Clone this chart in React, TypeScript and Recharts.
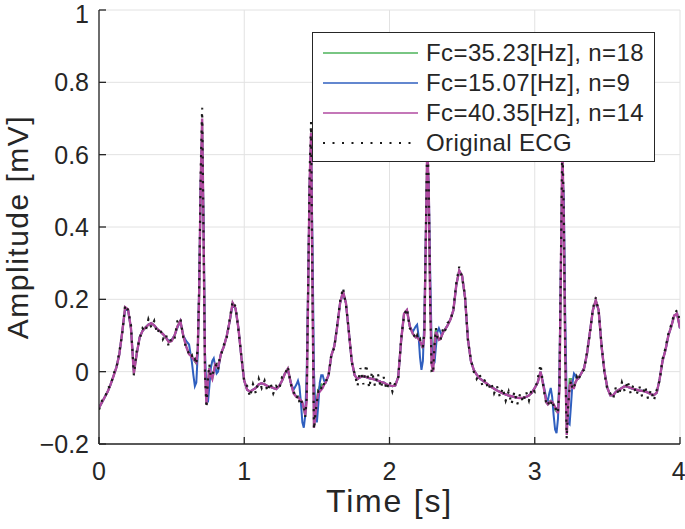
import React from 'react';
import { LineChart, Line, XAxis, YAxis, CartesianGrid } from 'recharts';

// sample times [s]
const time = [
  0, 0.02, 0.04, 0.06, 0.08, 0.1, 0.12, 0.14, 0.16, 0.18, 0.2, 0.22, 0.24, 0.26, 0.28, 0.3, 0.32, 0.34, 0.36, 0.38, 0.4, 0.42, 0.44, 0.46, 0.48, 0.5, 0.52, 0.54, 0.56, 0.58, 0.6, 0.62,
  0.63, 0.64, 0.65, 0.66, 0.67, 0.68, 0.69, 0.7, 0.71, 0.72, 0.73, 0.74, 0.75, 0.76, 0.77, 0.78, 0.79, 0.8, 0.81, 0.82, 0.83,
  0.84, 0.86, 0.88, 0.9, 0.92, 0.94, 0.96, 0.98, 1.0, 1.02, 1.04, 1.06, 1.08, 1.1, 1.12, 1.14, 1.16, 1.18, 1.2, 1.22, 1.24, 1.26, 1.28, 1.3, 1.32, 1.34, 1.36,
  1.37, 1.38, 1.39, 1.4, 1.41, 1.42, 1.43, 1.44, 1.45, 1.46, 1.47, 1.48, 1.49, 1.5, 1.51, 1.52, 1.53, 1.54, 1.55, 1.56, 1.57,
  1.58, 1.6, 1.62, 1.64, 1.66, 1.68, 1.7, 1.72, 1.74, 1.76, 1.78, 1.8, 1.82, 1.84, 1.86, 1.88, 1.9, 1.92, 1.94, 1.96, 1.98, 2.0, 2.02, 2.04, 2.06, 2.08, 2.1, 2.12, 2.14, 2.16, 2.18,
  2.19, 2.2, 2.21, 2.22, 2.23, 2.24, 2.25, 2.26, 2.27, 2.28, 2.29, 2.3, 2.31, 2.32, 2.33, 2.34, 2.35, 2.36, 2.37,
  2.38, 2.4, 2.42, 2.44, 2.46, 2.48, 2.5, 2.52, 2.54, 2.56, 2.58, 2.6, 2.62, 2.64, 2.66, 2.68, 2.7, 2.72, 2.74, 2.76, 2.78, 2.8, 2.82, 2.84, 2.86, 2.88, 2.9, 2.92, 2.94, 2.96, 2.98, 3.0, 3.02, 3.04, 3.06, 3.08,
  3.09, 3.1, 3.11, 3.12, 3.13, 3.14, 3.15, 3.16, 3.17, 3.18, 3.19, 3.2, 3.21, 3.22, 3.23, 3.24, 3.25, 3.26, 3.27, 3.28, 3.29,
  3.3, 3.32, 3.34, 3.36, 3.38, 3.4, 3.42, 3.44, 3.46, 3.48, 3.5, 3.52, 3.54, 3.56, 3.58, 3.6, 3.62, 3.64, 3.66, 3.68, 3.7, 3.72, 3.74, 3.76, 3.78, 3.8, 3.82, 3.84, 3.86, 3.88, 3.9, 3.92, 3.94, 3.96, 3.98, 4.0,
];

// Fc=40.35 Hz, n=14
const fc40 = [
  -0.1, -0.085, -0.07, -0.055, -0.035, -0.012, 0.012, 0.048, 0.11, 0.178, 0.172, 0.12, -0.005, 0.05, 0.095, 0.113, 0.122, 0.13, 0.134, 0.128, 0.118, 0.112, 0.104, 0.095, 0.082, 0.085, 0.1, 0.125, 0.14, 0.1, 0.07, 0.048,
  0.045, 0.04, 0.035, 0.03, 0.025, 0.06, 0.22, 0.52, 0.7, 0.38, 0.0, -0.09, -0.03, 0.01, -0.01, -0.02, 0.0, 0.02, 0.015, 0.012, 0.03,
  0.05, 0.07, 0.1, 0.14, 0.19, 0.175, 0.12, 0.04, -0.025, -0.05, -0.055, -0.05, -0.045, -0.035, -0.032, -0.035, -0.04, -0.042, -0.045, -0.048, -0.04, -0.025, -0.005, 0.008, -0.03, -0.06, -0.07,
  -0.07, -0.075, -0.08, -0.085, -0.1, -0.12, -0.08, 0.22, 0.52, 0.66, 0.22, -0.155, -0.12, -0.08, -0.06, -0.055, -0.05, -0.045, -0.035, -0.03, -0.02,
  -0.01, 0.045, 0.07, 0.125, 0.19, 0.222, 0.19, 0.11, 0.03, -0.01, -0.02, -0.015, -0.012, -0.015, -0.018, -0.02, -0.022, -0.025, -0.028, -0.03, -0.035, -0.038, -0.04, -0.038, -0.015, 0.085, 0.16, 0.17, 0.125, 0.105, 0.095,
  0.095, 0.09, 0.085, 0.075, 0.065, 0.1, 0.36, 0.63, 0.5, 0.2, 0.02, 0.0, 0.07, 0.11, 0.1, 0.088, 0.09, 0.1, 0.11,
  0.115, 0.128, 0.145, 0.17, 0.24, 0.28, 0.265, 0.205, 0.09, 0.03, 0.005, -0.008, -0.018, -0.024, -0.03, -0.036, -0.042, -0.047, -0.052, -0.056, -0.06, -0.063, -0.066, -0.068, -0.07, -0.072, -0.073, -0.072, -0.07, -0.066, -0.058, -0.045, -0.03, 0.0, -0.04, -0.085,
  -0.09, -0.085, -0.082, -0.083, -0.09, -0.098, -0.105, -0.115, -0.05, 0.28, 0.62, 0.42, 0.05, -0.175, -0.1, -0.04, -0.03, -0.045, -0.045, -0.03, -0.022,
  -0.019, -0.005, 0.01, 0.05, 0.11, 0.17, 0.198, 0.17, 0.07, 0.0, -0.045, -0.065, -0.065, -0.055, -0.05, -0.045, -0.04, -0.042, -0.045, -0.048, -0.05, -0.052, -0.053, -0.055, -0.058, -0.062, -0.065, -0.058, -0.02, 0.03, 0.06, 0.1, 0.125, 0.155, 0.16, 0.12,
];

// Fc=35.23 Hz, n=18
const fc35 = [
  -0.1, -0.085, -0.07, -0.055, -0.035, -0.012, 0.012, 0.048, 0.11, 0.178, 0.172, 0.12, -0.005, 0.05, 0.095, 0.113, 0.122, 0.13, 0.134, 0.128, 0.118, 0.112, 0.104, 0.095, 0.082, 0.085, 0.1, 0.125, 0.14, 0.1, 0.07, 0.05,
  0.045, 0.04, 0.035, 0.028, 0.022, 0.06, 0.22, 0.51, 0.69, 0.39, 0.01, -0.085, -0.03, 0.012, -0.008, -0.018, 0.0, 0.02, 0.015, 0.012, 0.03,
  0.05, 0.07, 0.1, 0.14, 0.19, 0.175, 0.12, 0.04, -0.025, -0.05, -0.055, -0.05, -0.045, -0.035, -0.032, -0.035, -0.04, -0.042, -0.045, -0.048, -0.04, -0.025, -0.005, 0.008, -0.03, -0.06, -0.07,
  -0.068, -0.075, -0.08, -0.088, -0.105, -0.12, -0.07, 0.22, 0.51, 0.65, 0.23, -0.15, -0.12, -0.075, -0.05, -0.04, -0.035, -0.04, -0.035, -0.03, -0.02,
  -0.01, 0.045, 0.07, 0.125, 0.19, 0.222, 0.19, 0.11, 0.03, -0.01, -0.02, -0.015, -0.012, -0.015, -0.018, -0.02, -0.022, -0.025, -0.028, -0.03, -0.035, -0.038, -0.04, -0.038, -0.015, 0.085, 0.16, 0.17, 0.125, 0.105, 0.095,
  0.098, 0.092, 0.082, 0.072, 0.065, 0.11, 0.36, 0.62, 0.5, 0.21, 0.03, 0.01, 0.09, 0.12, 0.1, 0.088, 0.09, 0.1, 0.11,
  0.115, 0.128, 0.145, 0.17, 0.24, 0.28, 0.265, 0.205, 0.09, 0.03, 0.005, -0.008, -0.018, -0.024, -0.03, -0.036, -0.042, -0.047, -0.052, -0.056, -0.06, -0.063, -0.066, -0.068, -0.07, -0.072, -0.073, -0.072, -0.07, -0.066, -0.058, -0.045, -0.03, 0.0, -0.04, -0.085,
  -0.09, -0.083, -0.08, -0.085, -0.095, -0.105, -0.11, -0.11, -0.04, 0.28, 0.61, 0.43, 0.06, -0.165, -0.09, -0.02, -0.02, -0.035, -0.04, -0.03, -0.022,
  -0.019, -0.005, 0.01, 0.05, 0.11, 0.17, 0.198, 0.17, 0.07, 0.0, -0.045, -0.065, -0.065, -0.055, -0.05, -0.045, -0.04, -0.042, -0.045, -0.048, -0.05, -0.052, -0.053, -0.055, -0.058, -0.062, -0.065, -0.058, -0.02, 0.03, 0.06, 0.1, 0.125, 0.155, 0.16, 0.12,
];

// Fc=15.07 Hz, n=9
const fc15 = [
  -0.1, -0.085, -0.07, -0.055, -0.035, -0.012, 0.012, 0.048, 0.11, 0.172, 0.17, 0.12, 0.005, 0.05, 0.095, 0.113, 0.122, 0.13, 0.134, 0.128, 0.118, 0.112, 0.104, 0.095, 0.085, 0.088, 0.1, 0.122, 0.14, 0.1, 0.085, 0.075,
  0.05, 0.025, -0.01, -0.04, -0.03, 0.05, 0.25, 0.52, 0.66, 0.42, 0.05, -0.06, -0.085, -0.04, 0.01, 0.03, 0.037, 0.015, -0.005, 0.0, 0.03,
  0.05, 0.07, 0.1, 0.14, 0.185, 0.175, 0.12, 0.04, -0.025, -0.05, -0.055, -0.05, -0.045, -0.035, -0.032, -0.035, -0.04, -0.042, -0.045, -0.048, -0.04, -0.025, -0.005, 0.005, -0.03, -0.05, -0.035,
  -0.025, -0.04, -0.085, -0.14, -0.155, -0.12, 0.0, 0.25, 0.52, 0.63, 0.35, 0.0, -0.11, -0.14, -0.09, -0.03, -0.01, -0.01, -0.025, -0.03, -0.02,
  -0.01, 0.045, 0.07, 0.125, 0.19, 0.218, 0.19, 0.11, 0.03, -0.01, -0.02, -0.015, -0.012, -0.015, -0.018, -0.02, -0.022, -0.025, -0.028, -0.03, -0.035, -0.038, -0.04, -0.038, -0.015, 0.085, 0.16, 0.17, 0.125, 0.11, 0.125,
  0.13, 0.1, 0.04, 0.005, 0.03, 0.15, 0.38, 0.58, 0.52, 0.28, 0.08, 0.02, 0.025, 0.07, 0.11, 0.12, 0.11, 0.1, 0.11,
  0.115, 0.128, 0.145, 0.17, 0.24, 0.278, 0.265, 0.205, 0.09, 0.03, 0.005, -0.008, -0.018, -0.024, -0.03, -0.036, -0.042, -0.047, -0.052, -0.056, -0.06, -0.063, -0.066, -0.068, -0.07, -0.072, -0.073, -0.072, -0.07, -0.066, -0.058, -0.045, -0.03, 0.0, -0.035, -0.075,
  -0.08, -0.06, -0.045, -0.07, -0.12, -0.16, -0.17, -0.13, 0.0, 0.3, 0.56, 0.48, 0.15, -0.08, -0.14, -0.145, -0.09, -0.03, -0.005, -0.01, -0.02,
  -0.019, -0.005, 0.01, 0.05, 0.11, 0.17, 0.195, 0.17, 0.07, 0.0, -0.045, -0.065, -0.065, -0.055, -0.05, -0.045, -0.04, -0.042, -0.045, -0.048, -0.05, -0.052, -0.053, -0.055, -0.058, -0.062, -0.065, -0.058, -0.02, 0.03, 0.06, 0.1, 0.125, 0.155, 0.16, 0.12,
];

// Original ECG [mV]
const ecg = [
  -0.105, -0.08, -0.075, -0.045, -0.04, -0.005, 0.01, 0.055, 0.105, 0.185, 0.17, 0.13, -0.01, 0.06, 0.09, 0.12, 0.11, 0.145, 0.122, 0.14, 0.105, 0.122, 0.09, 0.105, 0.07, 0.095, 0.09, 0.14, 0.15, 0.095, 0.065, 0.05,
  0.04, 0.045, 0.03, 0.035, 0.02, 0.07, 0.24, 0.55, 0.73, 0.36, -0.01, -0.1, -0.02, 0.02, -0.015, -0.01, 0.005, 0.015, 0.02, 0.005, 0.035,
  0.045, 0.075, 0.095, 0.145, 0.195, 0.18, 0.115, 0.045, -0.03, -0.04, -0.07, -0.035, -0.06, -0.02, -0.045, -0.025, -0.055, -0.03, -0.06, -0.04, -0.05, -0.015, -0.01, 0.015, -0.035, -0.055, -0.075,
  -0.065, -0.085, -0.075, -0.09, -0.095, -0.125, -0.07, 0.24, 0.55, 0.69, 0.2, -0.16, -0.115, -0.085, -0.055, -0.06, -0.045, -0.05, -0.03, -0.035, -0.015,
  -0.015, 0.05, 0.065, 0.13, 0.195, 0.232, 0.185, 0.115, 0.025, -0.005, -0.04, 0.01, -0.035, 0.02, -0.045, 0.0, -0.04, -0.005, -0.045, -0.015, -0.05, -0.025, -0.055, -0.03, -0.02, 0.09, 0.155, 0.175, 0.12, 0.11, 0.09,
  0.1, 0.085, 0.09, 0.07, 0.07, 0.11, 0.38, 0.66, 0.52, 0.19, 0.0, -0.005, 0.075, 0.12, 0.095, 0.095, 0.085, 0.105, 0.12,
  0.11, 0.135, 0.14, 0.175, 0.245, 0.29, 0.26, 0.21, 0.085, 0.035, 0.0, -0.02, -0.005, -0.04, -0.02, -0.05, -0.03, -0.06, -0.04, -0.07, -0.045, -0.08, -0.055, -0.09, -0.055, -0.09, -0.06, -0.085, -0.055, -0.08, -0.045, -0.055, -0.02, 0.02, -0.045, -0.09,
  -0.095, -0.08, -0.09, -0.078, -0.095, -0.09, -0.115, -0.11, -0.04, 0.3, 0.65, 0.44, 0.04, -0.185, -0.095, -0.045, -0.025, -0.05, -0.04, -0.035, -0.015,
  -0.025, 0.0, 0.005, 0.055, 0.105, 0.175, 0.205, 0.165, 0.075, -0.005, -0.05, -0.06, -0.075, -0.04, -0.065, -0.03, -0.055, -0.025, -0.06, -0.035, -0.065, -0.04, -0.07, -0.04, -0.075, -0.05, -0.08, -0.05, -0.025, 0.035, 0.065, 0.105, 0.13, 0.16, 0.17, 0.14,
];

const xTicks = [0, 1, 2, 3, 4];
const yTicks = [-0.2, 0, 0.2, 0.4, 0.6, 0.8, 1];

const seriesInfo = [
  { key: 'fc35', name: 'Fc=35.23[Hz], n=18', color: '#4db35a', width: 2 },
  { key: 'fc15', name: 'Fc=15.07[Hz], n=9', color: '#2f5fbf', width: 2 },
  { key: 'fc40', name: 'Fc=40.35[Hz], n=14', color: '#b04aa0', width: 2.4 },
  { key: 'ecg', name: 'Original ECG', color: '#1a1a1a', width: 2.2, dash: '2.2 6' },
];

const data = time.map((t, i) => ({ t, fc35: fc35[i], fc15: fc15[i], fc40: fc40[i], ecg: ecg[i] }));

const FONT = '"Liberation Sans", Arial, Helvetica, sans-serif';
const INK = '#262626';

const fmtY = (v: number) => String(v).replace('-', '\u2212');

export default function App() {
  return (
    <div style={{ position: 'absolute', left: 0, top: 0, width: 685, height: 529, background: '#fff', fontFamily: FONT }}>
      <LineChart width={685} height={529} data={data} margin={{ top: 10, right: 5, bottom: 0, left: 0 }}>
        <CartesianGrid stroke="#e2e2e2" strokeWidth={1} />
        <XAxis
          dataKey="t"
          type="number"
          domain={[0, 4]}
          ticks={xTicks}
          height={85}
          allowDataOverflow
          tickSize={-7}
          tickMargin={25}
          stroke={INK}
          strokeWidth={1.3}
          tick={{ fontSize: 25, fill: INK, fontFamily: FONT }}
          label={{ value: 'Time [s]', position: 'insideBottom', offset: 17, style: { fontSize: 32, fill: INK, fontFamily: FONT, letterSpacing: 1.8 } }}
        />
        <XAxis
          xAxisId="top"
          orientation="top"
          dataKey="t"
          type="number"
          domain={[0, 4]}
          ticks={xTicks}
          height={0}
          allowDataOverflow
          tickSize={-7}
          stroke={INK}
          strokeWidth={1.3}
          tickFormatter={() => ''}
        />
        <YAxis
          type="number"
          domain={[-0.2, 1]}
          ticks={yTicks}
          width={99}
          allowDataOverflow
          tickSize={-7}
          tickMargin={17}
          stroke={INK}
          strokeWidth={1.3}
          tickFormatter={fmtY}
          tick={{ fontSize: 25, fill: INK, fontFamily: FONT }}
          label={{ value: 'Amplitude [mV]', angle: -90, position: 'insideLeft', offset: 17, style: { fontSize: 30, fill: INK, fontFamily: FONT, textAnchor: 'middle', letterSpacing: 1.5 } }}
        />
        <YAxis
          yAxisId="right"
          orientation="right"
          type="number"
          domain={[-0.2, 1]}
          ticks={yTicks}
          width={0}
          allowDataOverflow
          tickSize={-7}
          stroke={INK}
          strokeWidth={1.3}
          tickFormatter={() => ''}
        />
        {seriesInfo.map((s) => (
          <Line
            key={s.key}
            dataKey={s.key}
            name={s.name}
            type="linear"
            stroke={s.color}
            strokeWidth={s.width}
            strokeDasharray={s.dash}
            dot={false}
            activeDot={false}
            isAnimationActive={false}
          />
        ))}
      </LineChart>
      <div
        style={{
          position: 'absolute',
          left: 312,
          top: 32,
          width: 343,
          height: 130,
          boxSizing: 'border-box',
          border: `1.3px solid ${INK}`,
          background: '#fff',
        }}
      >
        {seriesInfo.map((s, i) => (
          <div key={s.key} style={{ position: 'absolute', left: 0, top: 5 + i * 30, height: 30, width: 340, display: 'flex', alignItems: 'center' }}>
            <svg width={113} height={30} style={{ flex: 'none' }}>
              <line x1={10} x2={105} y1={15} y2={15} stroke={s.color} strokeWidth={s.key === 'ecg' ? 2 : 1.6} strokeDasharray={s.key === 'ecg' ? '2 7.5' : undefined} />
            </svg>
            <span style={{ fontSize: 24, letterSpacing: 0.4, color: INK, fontFamily: FONT, whiteSpace: 'nowrap', lineHeight: '30px' }}>{s.name}</span>
          </div>
        ))}
      </div>
    </div>
  );
}
